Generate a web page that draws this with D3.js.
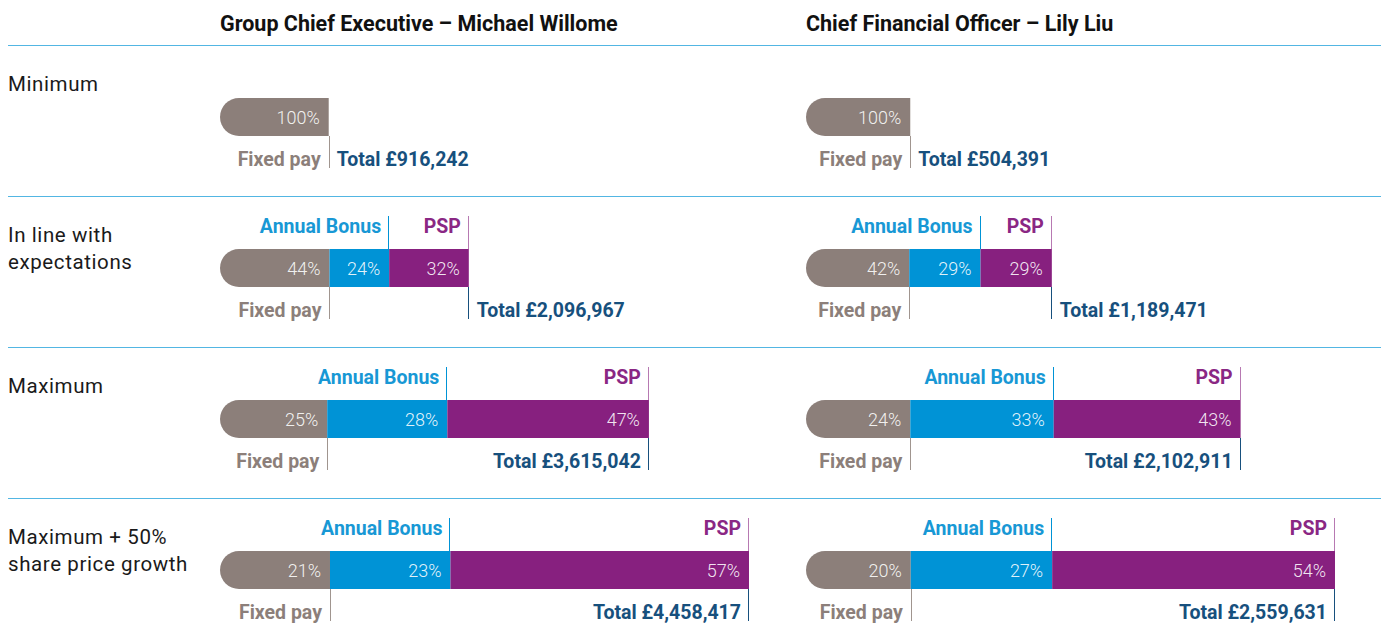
<!DOCTYPE html>
<html>
<head>
<meta charset="utf-8">
<script src="https://cdn.jsdelivr.net/npm/d3@7"></script>
<style>
  html, body { margin: 0; padding: 0; background: #fff; }
  svg { display: block; font-family: Roboto, "Noto Sans", sans-serif; }
</style>
</head>
<body>
<svg id="chart" width="1381" height="642"></svg>
<script>
// Pay scenarios (rows)
const scenarioLines = [
  ["Minimum"],
  ["In line with", "expectations"],
  ["Maximum"],
  ["Maximum + 50%", "share price growth"]
];

// Executives (panels)
const executives = ["Group Chief Executive \u2013 Michael Willome", "Chief Financial Officer \u2013 Lily Liu"];

// Group Chief Executive
const ceoTotals   = [916242, 2096967, 3615042, 4458417];
const ceoFixedPct = [100, 44, 25, 21];
const ceoBonusPct = [0, 24, 28, 23];
const ceoPspPct   = [0, 32, 47, 57];

// Chief Financial Officer
const cfoTotals   = [504391, 1189471, 2102911, 2559631];
const cfoFixedPct = [100, 42, 24, 20];
const cfoBonusPct = [0, 29, 33, 27];
const cfoPspPct   = [0, 29, 43, 54];

const components = ["Fixed pay", "Annual Bonus", "PSP"];

const colors = {
  fixed: "#8c7f7a",
  bonus: "#0093d6",
  psp: "#87207f",
  fixedText: "#8c7f7a",
  bonusText: "#1898d5",
  pspText: "#8a2784",
  total: "#17507d",
  rule: "#52b6e3",
  title: "#111111",
  label: "#1a1a1a"
};

const panels = [
  { name: executives[0], totals: ceoTotals, pcts: [ceoFixedPct, ceoBonusPct, ceoPspPct], x0: 220 },
  { name: executives[1], totals: cfoTotals, pcts: [cfoFixedPct, cfoBonusPct, cfoPspPct], x0: 806 }
];

const svg = d3.select("#chart");
const W = 1381;
const rowTop = [45, 196, 347, 498];   // separator line for each row
const barOffset = 53, barH = 38, barSpan = 529;
const labelSize = 19.5;
const fmt = d3.format(",");

// Separators
svg.selectAll("line.rule").data(rowTop).join("line")
  .attr("class", "rule")
  .attr("x1", 8).attr("x2", W)
  .attr("y1", d => d + 0.5).attr("y2", d => d + 0.5)
  .attr("stroke", colors.rule).attr("stroke-width", 1.2);

// Row labels
scenarioLines.forEach((lines, i) => {
  const t = svg.append("text")
    .attr("x", 8).attr("y", rowTop[i] + 46)
    .attr("font-size", 20.5).attr("letter-spacing", 0.6)
    .attr("fill", colors.label);
  lines.forEach((l, j) => t.append("tspan").attr("x", 8).attr("dy", j ? 27 : 0).text(l));
});

// Left-rounded bar path
function leftRounded(x, y, w, h) {
  const r = Math.min(h / 2, w);
  return `M${x + r},${y}H${x + w}V${y + h}H${x + r}A${r},${r} 0 0 1 ${x},${y + h - r}V${y + r}A${r},${r} 0 0 1 ${x + r},${y}Z`;
}

panels.forEach(p => {
  const xScale = d3.scaleLinear()
    .domain([0, d3.max(p.totals)])
    .range([p.x0, p.x0 + barSpan]);

  // Panel title
  svg.append("text")
    .attr("x", p.x0).attr("y", 31)
    .attr("font-size", 21.5).attr("font-weight", 700)
    .attr("fill", colors.title)
    .text(p.name);

  p.totals.forEach((total, i) => {
    const g = svg.append("g");
    const yTop = rowTop[i] + barOffset;
    const yBot = yTop + barH;
    const pctRow = p.pcts.map(a => a[i]);
    const pctSum = d3.sum(pctRow);

    // Segment extents in money terms, from stated shares of the total
    let acc = 0;
    const segs = pctRow.map((pct, k) => {
      const v = total * pct / pctSum;
      const s = { k, pct, start: acc, end: acc + v };
      acc += v;
      return s;
    }).filter(s => s.pct > 0);

    const fills = [colors.fixed, colors.bonus, colors.psp];
    const txtColors = [colors.fixedText, colors.bonusText, colors.pspText];

    g.selectAll("path.seg").data(segs).join("path")
      .attr("class", "seg")
      .attr("fill", d => fills[d.k])
      .attr("d", d => {
        const x = xScale(d.start), w = xScale(d.end) - xScale(d.start);
        return d.k === 0 ? leftRounded(x, yTop, w, barH) : `M${x},${yTop}h${w}v${barH}h${-w}Z`;
      });

    // Percent labels inside segments
    g.selectAll("text.pct").data(segs).join("text")
      .attr("class", "pct")
      .attr("x", d => xScale(d.end) - 9)
      .attr("y", yTop + barH / 2 + 6.5)
      .attr("text-anchor", "end")
      .attr("font-size", 18).attr("font-weight", 300)
      .attr("fill", "#ffffff").attr("fill-opacity", 0.9)
      .text(d => d.pct + "%");

    // Component labels above bar (variable pay)
    const upper = segs.filter(d => d.k > 0);
    g.selectAll("line.up").data(upper).join("line")
      .attr("class", "up")
      .attr("x1", d => Math.round(xScale(d.end)) - 0.5).attr("x2", d => Math.round(xScale(d.end)) - 0.5)
      .attr("y1", yTop - 33).attr("y2", yTop)
      .attr("stroke", d => fills[d.k]).attr("stroke-opacity", d => d.k === 2 ? 0.6 : 1)
      .attr("stroke-width", 1);
    g.selectAll("text.up").data(upper).join("text")
      .attr("class", "up")
      .attr("x", d => xScale(d.end) - 8)
      .attr("y", yTop - 16)
      .attr("text-anchor", "end")
      .attr("font-size", labelSize).attr("font-weight", 700)
      .attr("fill", d => txtColors[d.k])
      .text(d => components[d.k]);

    // Fixed pay label below bar
    const fixedEnd = xScale(segs[0].end);
    g.append("line")
      .attr("x1", Math.round(fixedEnd) + 0.5).attr("x2", Math.round(fixedEnd) + 0.5)
      .attr("y1", yBot).attr("y2", yBot + 32)
      .attr("stroke", "#a0958f").attr("stroke-width", 1);
    g.append("text")
      .attr("x", fixedEnd - 8).attr("y", yBot + 30)
      .attr("text-anchor", "end")
      .attr("font-size", labelSize).attr("font-weight", 700)
      .attr("fill", colors.fixedText)
      .text(components[0]);

    // Total label
    const xEnd = xScale(total);
    if (segs.length > 1) {
      g.append("line")
        .attr("x1", Math.round(xEnd) - 0.5).attr("x2", Math.round(xEnd) - 0.5)
        .attr("y1", yBot).attr("y2", yBot + 32)
        .attr("stroke", colors.total).attr("stroke-width", 1);
    }
    const tt = g.append("text")
      .attr("y", yBot + 30)
      .attr("font-size", labelSize).attr("font-weight", 700)
      .attr("fill", colors.total)
      .text("Total \u00a3" + fmt(total));
    const tw = tt.node().getComputedTextLength();
    if (xEnd + 8 + tw <= p.x0 + barSpan) {
      tt.attr("x", xEnd + 8).attr("text-anchor", "start");
    } else {
      tt.attr("x", xEnd - 8).attr("text-anchor", "end");
    }
  });
});
</script>
</body>
</html>
